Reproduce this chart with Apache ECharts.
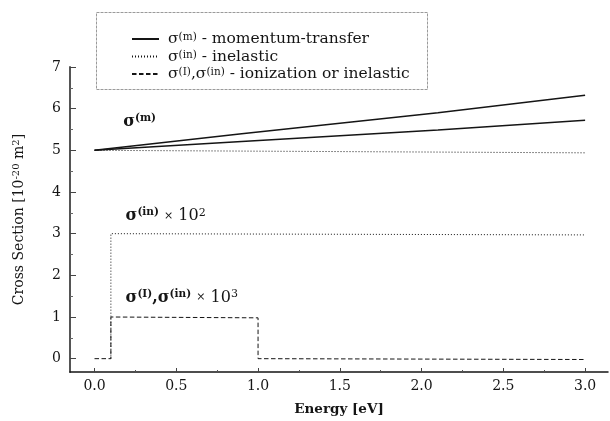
<!DOCTYPE html>
<html>
<head>
<meta charset="utf-8">
<script src="https://cdn.jsdelivr.net/npm/echarts@6/dist/echarts.min.js"></script>
<style>
  html, body { margin: 0; padding: 0; background: #fff; }
  #chart { width: 610px; height: 421px; }
</style>
</head>
<body>
<div id="chart"></div>
<script>
// Momentum-transfer cross section (two curves), in units of 1e-20 m^2
const energyM = [0, 0.9, 2.1, 3.0];
const sigmaMUpper = [5.00, 5.40, 5.90, 6.32];
const sigmaMLower = [5.00, 5.21, 5.49, 5.72];

// Inelastic cross section near 5
const energyIn = [0, 1.0, 2.0, 3.0];
const sigmaIn = [5.00, 4.98, 4.96, 4.94];

// Inelastic cross section scaled by 10^2 (step at threshold)
const energyIn100 = [0.1, 0.1, 3.0];
const sigmaIn100 = [0, 3.00, 2.97];

// Ionization / inelastic cross section scaled by 10^3
const energyI1000 = [0, 0.1, 0.1, 1.0, 1.0, 3.0];
const sigmaI1000 = [0, 0, 1.00, 0.98, 0, -0.02];

// Axis ticks
const xMajorTicks = [0, 0.5, 1.0, 1.5, 2.0, 2.5, 3.0];
const xMinorTicks = [0.25, 0.75, 1.25, 1.75, 2.25, 2.75];
const yMajorTicks = [0, 1, 2, 3, 4, 5, 6, 7];
const yMinorTicks = [0.5, 1.5, 2.5, 3.5, 4.5, 5.5, 6.5];

const zip = (xs, ys) => xs.map((x, i) => [x, ys[i]]);

const FONT = '"DejaVu Serif", "Liberation Serif", serif';
const INK = '#151515';

const legendText = {
  m: '{g|}σ{sup|(m)} - momentum-transfer',
  in: '{g|}σ{sup|(in)} - inelastic',
  I: '{g|}σ{sup|(I)},σ{sup|(in)} - ionization or inelastic'
};

const chart = echarts.init(document.getElementById('chart'), null, { renderer: 'canvas' });

const xRange = { min: -0.15, max: 3.14 };
const yRange = { min: -0.32, max: 7.0 };

const lineSeries = (name, xs, ys, width, type) => ({
  name, type: 'line', symbol: 'none', showSymbol: false, silent: true,
  data: zip(xs, ys),
  itemStyle: { color: INK },
  lineStyle: { color: INK, width, type }
});

chart.setOption({
  animation: false,
  backgroundColor: '#fff',
  grid: { left: 70, right: 2, top: 67, bottom: 48 },
  legend: {
    orient: 'vertical',
    left: 131,
    top: 31,
    padding: 0,
    itemWidth: 27,
    itemHeight: 12,
    itemGap: 1.5,
    selectedMode: false,
    data: ['m', 'in', 'I'],
    itemStyle: { opacity: 0 },
    formatter: (name) => legendText[name],
    textStyle: {
      fontFamily: FONT,
      fontSize: 15.5,
      color: INK,
      lineHeight: 14,
      rich: {
        g: { width: 4 },
        sup: { fontFamily: FONT, fontSize: 10.5, lineHeight: 8, verticalAlign: 'top', color: INK }
      }
    }
  },
  xAxis: [
    {
      type: 'value',
      min: xRange.min,
      max: xRange.max,
      position: 'bottom',
      name: 'Energy [eV]',
      nameLocation: 'middle',
      nameGap: 30,
      nameTextStyle: { fontFamily: FONT, fontSize: 13.5, fontWeight: 'bold', color: INK },
      axisLine: { show: true, onZero: false, lineStyle: { color: INK, width: 1.5 } },
      axisTick: { show: true, inside: true, length: 4, customValues: xMajorTicks, lineStyle: { color: '#444', width: 1 } },
      axisLabel: {
        customValues: xMajorTicks,
        formatter: (v) => v.toFixed(1),
        fontFamily: FONT, fontSize: 14, color: INK, margin: 7
      },
      splitLine: { show: false }
    },
    {
      type: 'value',
      min: xRange.min,
      max: xRange.max,
      position: 'bottom',
      axisLine: { show: false, onZero: false },
      axisTick: { show: true, inside: true, length: 2, customValues: xMinorTicks, lineStyle: { color: '#555', width: 1 } },
      axisLabel: { show: false },
      splitLine: { show: false }
    }
  ],
  yAxis: [
    {
      type: 'value',
      min: yRange.min,
      max: yRange.max,
      position: 'left',
      name: 'Cross Section [10{sup|-20} m{sup|2}]',
      nameLocation: 'middle',
      nameGap: 43,
      nameTextStyle: {
        fontFamily: FONT, fontSize: 14, color: INK, lineHeight: 16,
        rich: { sup: { fontFamily: FONT, fontSize: 10, lineHeight: 9, verticalAlign: 'top', color: INK } }
      },
      axisLine: { show: true, onZero: false, lineStyle: { color: '#555', width: 2 } },
      axisTick: { show: true, inside: true, length: 6, customValues: yMajorTicks, lineStyle: { color: '#444', width: 1 } },
      axisLabel: {
        customValues: yMajorTicks,
        fontFamily: FONT, fontSize: 14, color: INK, margin: 9
      },
      splitLine: { show: false }
    },
    {
      type: 'value',
      min: yRange.min,
      max: yRange.max,
      position: 'left',
      axisLine: { show: false, onZero: false },
      axisTick: { show: true, inside: true, length: 3, customValues: yMinorTicks, lineStyle: { color: '#666', width: 1 } },
      axisLabel: { show: false },
      splitLine: { show: false }
    }
  ],
  series: [
    lineSeries('m', energyM, sigmaMUpper, 1.5, 'solid'),
    lineSeries('m', energyM, sigmaMLower, 1.5, 'solid'),
    lineSeries('in', energyIn, sigmaIn, 1, [1, 2]),
    lineSeries('in', energyIn100, sigmaIn100, 1, [1, 2]),
    lineSeries('I', energyI1000, sigmaI1000, 1, [4.5, 2.5])
  ]
});

// Curve annotations, anchored in data coordinates
const annotations = [
  { at: [0.175, 5.69], text: '{s|σ}{sup|(m)}' },
  { at: [0.19, 3.42], text: '{s|σ}{sup|(in)} {x|×} {n|10}{sup2|2}' },
  { at: [0.19, 1.47], text: '{s|σ}{sup|(I)}{s|,σ}{sup|(in)} {x|×} {n|10}{sup2|3}' }
];

const richAnno = {
  s: { fontFamily: FONT, fontSize: 16, fontWeight: 'bold', color: INK, lineHeight: 18 },
  sup: { fontFamily: FONT, fontSize: 10.5, fontWeight: 'bold', color: INK, lineHeight: 10, verticalAlign: 'top' },
  x: { fontFamily: FONT, fontSize: 11, color: '#b5b5b5', lineHeight: 18 },
  n: { fontFamily: FONT, fontSize: 16, color: INK, lineHeight: 18 },
  sup2: { fontFamily: FONT, fontSize: 11, color: INK, lineHeight: 10, verticalAlign: 'top' }
};

const graphics = annotations.map((a) => {
  const p = chart.convertToPixel({ xAxisIndex: 0, yAxisIndex: 0 }, a.at);
  return {
    type: 'text',
    silent: true,
    style: {
      x: p[0], y: p[1],
      text: a.text,
      align: 'left',
      verticalAlign: 'middle',
      fontFamily: FONT,
      fontSize: 16,
      fill: INK,
      rich: richAnno
    }
  };
});

// Frame around the legend
graphics.push({
  type: 'rect',
  silent: true,
  z: -1,
  shape: { x: 96.5, y: 12.5, width: 331, height: 77 },
  style: { fill: 'none', stroke: '#9a9a9a', lineWidth: 1, lineDash: [3, 1] }
});

chart.setOption({ graphic: graphics });
</script>
</body>
</html>
